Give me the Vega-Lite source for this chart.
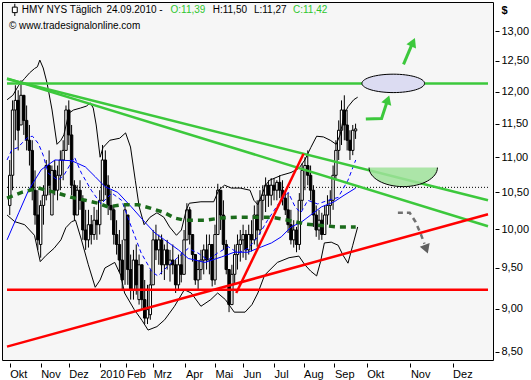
{
  "$schema": "https://vega.github.io/schema/vega-lite/v6.json",
  "width": 491,
  "height": 358,
  "autosize": {"type": "none"},
  "padding": {"left": 2, "top": 2, "right": 38, "bottom": 20},
  "background": "#ffffff",
  "config": {
    "font": "Liberation Sans",
    "view": {"fill": "#f6f6f6", "stroke": "#000000", "strokeWidth": 1}
  },
  "datasets": {
    "candles": [
      {"t":0,"o":10.32,"h":10.96,"l":10.19,"c":10.74},
      {"t":2,"o":10.74,"h":11.86,"l":10.53,"c":11.71},
      {"t":4,"o":11.71,"h":12.10,"l":11.25,"c":11.86},
      {"t":6,"o":11.86,"h":12.02,"l":11.10,"c":11.40},
      {"t":8,"o":11.48,"h":12.18,"l":11.48,"c":11.94},
      {"t":10,"o":11.94,"h":11.94,"l":11.33,"c":11.55},
      {"t":12,"o":11.55,"h":11.78,"l":11.10,"c":11.25},
      {"t":14,"o":11.25,"h":11.48,"l":10.88,"c":11.10},
      {"t":16,"o":11.10,"h":11.25,"l":10.39,"c":10.53},
      {"t":18,"o":10.53,"h":10.81,"l":10.06,"c":10.19},
      {"t":20,"o":10.19,"h":10.53,"l":9.73,"c":9.86},
      {"t":22,"o":9.80,"h":10.39,"l":9.63,"c":10.32},
      {"t":24,"o":10.32,"h":10.60,"l":10.06,"c":10.46},
      {"t":26,"o":10.46,"h":10.96,"l":10.39,"c":10.88},
      {"t":28,"o":10.88,"h":11.10,"l":10.46,"c":10.60},
      {"t":30,"o":10.19,"h":10.88,"l":10.19,"c":10.81},
      {"t":32,"o":10.81,"h":10.96,"l":10.46,"c":10.53},
      {"t":34,"o":10.53,"h":10.88,"l":10.39,"c":10.74},
      {"t":36,"o":10.74,"h":11.10,"l":10.53,"c":10.96},
      {"t":38,"o":10.96,"h":11.25,"l":10.67,"c":11.10},
      {"t":40,"o":11.10,"h":11.78,"l":11.10,"c":11.71},
      {"t":42,"o":11.71,"h":11.86,"l":11.18,"c":11.33},
      {"t":44,"o":11.33,"h":11.48,"l":10.46,"c":10.60},
      {"t":46,"o":10.60,"h":10.67,"l":10.12,"c":10.19},
      {"t":48,"o":10.19,"h":10.60,"l":10.19,"c":10.53},
      {"t":50,"o":10.53,"h":10.67,"l":10.26,"c":10.39},
      {"t":52,"o":10.39,"h":10.46,"l":9.86,"c":9.99},
      {"t":54,"o":9.99,"h":10.26,"l":9.73,"c":9.86},
      {"t":56,"o":9.86,"h":10.26,"l":9.76,"c":10.06},
      {"t":58,"o":10.06,"h":10.19,"l":9.80,"c":9.93},
      {"t":60,"o":9.93,"h":10.30,"l":9.86,"c":10.12},
      {"t":62,"o":10.12,"h":10.26,"l":9.86,"c":10.06},
      {"t":64,"o":10.06,"h":10.53,"l":9.93,"c":10.39},
      {"t":66,"o":10.39,"h":11.18,"l":10.39,"c":10.96},
      {"t":68,"o":10.96,"h":11.10,"l":10.46,"c":10.60},
      {"t":70,"o":10.60,"h":10.74,"l":10.19,"c":10.32},
      {"t":72,"o":10.32,"h":10.53,"l":10.12,"c":10.26},
      {"t":74,"o":10.26,"h":10.32,"l":9.80,"c":9.93},
      {"t":76,"o":9.93,"h":10.12,"l":9.67,"c":9.80},
      {"t":78,"o":9.80,"h":9.99,"l":9.45,"c":9.60},
      {"t":80,"o":9.60,"h":9.86,"l":9.23,"c":9.35},
      {"t":82,"o":9.86,"h":10.32,"l":9.29,"c":10.26},
      {"t":84,"o":10.19,"h":10.19,"l":9.29,"c":9.48},
      {"t":86,"o":9.48,"h":9.67,"l":9.11,"c":9.23},
      {"t":88,"o":9.23,"h":9.73,"l":9.11,"c":9.60},
      {"t":90,"o":9.60,"h":9.80,"l":9.17,"c":9.29},
      {"t":92,"o":9.11,"h":9.67,"l":9.05,"c":9.54},
      {"t":94,"o":9.54,"h":9.54,"l":8.99,"c":9.11},
      {"t":96,"o":9.11,"h":9.35,"l":8.82,"c":8.89},
      {"t":98,"o":8.89,"h":9.29,"l":8.82,"c":8.99},
      {"t":100,"o":8.93,"h":9.48,"l":8.87,"c":9.29},
      {"t":102,"o":9.29,"h":9.99,"l":9.29,"c":9.86},
      {"t":104,"o":9.86,"h":10.06,"l":9.60,"c":9.73},
      {"t":106,"o":9.73,"h":9.93,"l":9.54,"c":9.86},
      {"t":108,"o":9.86,"h":9.93,"l":9.42,"c":9.54},
      {"t":110,"o":9.54,"h":9.80,"l":9.35,"c":9.73},
      {"t":112,"o":9.73,"h":9.86,"l":9.48,"c":9.54},
      {"t":114,"o":9.54,"h":9.73,"l":9.33,"c":9.60},
      {"t":116,"o":9.60,"h":9.80,"l":9.42,"c":9.54},
      {"t":118,"o":9.54,"h":9.60,"l":9.19,"c":9.29},
      {"t":120,"o":9.29,"h":9.67,"l":9.23,"c":9.54},
      {"t":122,"o":9.54,"h":9.69,"l":9.32,"c":9.42},
      {"t":124,"o":9.42,"h":9.99,"l":9.42,"c":9.86},
      {"t":126,"o":9.86,"h":10.35,"l":9.86,"c":10.26},
      {"t":128,"o":10.26,"h":10.30,"l":9.80,"c":9.93},
      {"t":130,"o":9.93,"h":9.93,"l":9.58,"c":9.67},
      {"t":132,"o":9.67,"h":9.67,"l":9.29,"c":9.35},
      {"t":134,"o":9.35,"h":9.60,"l":9.23,"c":9.48},
      {"t":136,"o":9.48,"h":9.73,"l":9.35,"c":9.60},
      {"t":138,"o":9.60,"h":9.80,"l":9.42,"c":9.73},
      {"t":140,"o":9.73,"h":9.93,"l":9.48,"c":9.60},
      {"t":142,"o":9.60,"h":9.93,"l":9.42,"c":9.80},
      {"t":144,"o":9.80,"h":9.80,"l":9.27,"c":9.35},
      {"t":146,"o":9.35,"h":10.06,"l":9.29,"c":9.93},
      {"t":148,"o":9.93,"h":10.62,"l":9.93,"c":10.53},
      {"t":150,"o":10.53,"h":10.53,"l":9.99,"c":10.19},
      {"t":152,"o":10.19,"h":10.39,"l":9.73,"c":9.80},
      {"t":154,"o":9.80,"h":9.86,"l":9.42,"c":9.48},
      {"t":156,"o":9.48,"h":9.48,"l":8.96,"c":9.05},
      {"t":158,"o":9.05,"h":9.54,"l":9.05,"c":9.42},
      {"t":160,"o":9.42,"h":9.80,"l":9.29,"c":9.67},
      {"t":162,"o":9.67,"h":9.93,"l":9.48,"c":9.80},
      {"t":164,"o":9.80,"h":9.99,"l":9.58,"c":9.86},
      {"t":166,"o":9.86,"h":10.06,"l":9.63,"c":9.93},
      {"t":168,"o":9.93,"h":9.99,"l":9.60,"c":9.73},
      {"t":170,"o":9.73,"h":10.06,"l":9.67,"c":9.93},
      {"t":172,"o":9.93,"h":10.12,"l":9.71,"c":9.86},
      {"t":174,"o":9.86,"h":10.32,"l":9.80,"c":10.19},
      {"t":176,"o":10.19,"h":10.39,"l":9.77,"c":9.99},
      {"t":178,"o":9.99,"h":10.53,"l":9.93,"c":10.39},
      {"t":180,"o":10.39,"h":10.60,"l":10.12,"c":10.46},
      {"t":182,"o":10.46,"h":10.71,"l":10.23,"c":10.60},
      {"t":184,"o":10.60,"h":10.67,"l":10.30,"c":10.46},
      {"t":186,"o":10.46,"h":10.70,"l":10.32,"c":10.60},
      {"t":188,"o":10.60,"h":10.70,"l":10.39,"c":10.53},
      {"t":190,"o":10.53,"h":10.67,"l":10.39,"c":10.64},
      {"t":192,"o":10.64,"h":10.74,"l":10.42,"c":10.53},
      {"t":194,"o":10.53,"h":10.67,"l":10.32,"c":10.42},
      {"t":196,"o":10.42,"h":10.53,"l":10.19,"c":10.26},
      {"t":198,"o":10.26,"h":10.49,"l":9.95,"c":10.06},
      {"t":200,"o":10.06,"h":10.26,"l":9.80,"c":9.86},
      {"t":202,"o":9.86,"h":10.12,"l":9.76,"c":9.99},
      {"t":204,"o":9.99,"h":10.03,"l":9.70,"c":9.80},
      {"t":206,"o":9.80,"h":10.49,"l":9.73,"c":10.39},
      {"t":208,"o":10.39,"h":10.91,"l":10.26,"c":10.81},
      {"t":210,"o":10.81,"h":11.00,"l":10.53,"c":10.88},
      {"t":212,"o":10.88,"h":11.10,"l":10.60,"c":10.74},
      {"t":214,"o":10.74,"h":10.88,"l":10.39,"c":10.53},
      {"t":216,"o":10.53,"h":10.60,"l":10.03,"c":10.19},
      {"t":218,"o":10.19,"h":10.32,"l":9.90,"c":9.99},
      {"t":220,"o":9.99,"h":10.26,"l":9.86,"c":10.12},
      {"t":222,"o":10.12,"h":10.22,"l":9.86,"c":9.93},
      {"t":224,"o":9.93,"h":10.32,"l":9.93,"c":10.19},
      {"t":226,"o":10.19,"h":10.46,"l":10.06,"c":10.32},
      {"t":228,"o":10.32,"h":10.53,"l":10.06,"c":10.39},
      {"t":230,"o":10.39,"h":10.88,"l":10.26,"c":10.74},
      {"t":232,"o":10.74,"h":11.25,"l":10.67,"c":11.10},
      {"t":234,"o":11.10,"h":11.55,"l":10.96,"c":11.40},
      {"t":236,"o":11.40,"h":11.86,"l":11.18,"c":11.71},
      {"t":238,"o":11.71,"h":11.94,"l":11.25,"c":11.48},
      {"t":240,"o":11.48,"h":11.71,"l":11.10,"c":11.25},
      {"t":242,"o":11.25,"h":11.40,"l":10.96,"c":11.10},
      {"t":244,"o":11.10,"h":11.48,"l":11.03,"c":11.40},
      {"t":246,"o":11.39,"h":11.50,"l":11.27,"c":11.42}
    ],
    "ind": [
      {"s":"ub","t":-1.9,"v":11.87},{"s":"ub","t":2.2,"v":11.94},{"s":"ub","t":6.4,"v":12.10},{"s":"ub","t":10.6,"v":12.21},{"s":"ub","t":14.1,"v":12.30},{"s":"ub","t":17.6,"v":12.37},{"s":"ub","t":19.7,"v":12.40},{"s":"ub","t":21.4,"v":12.51},{"s":"ub","t":23.8,"v":12.38},{"s":"ub","t":26.6,"v":12.13},{"s":"ub","t":30.1,"v":11.71},{"s":"ub","t":33.6,"v":11.19},{"s":"ub","t":36.4,"v":11.25},{"s":"ub","t":38.5,"v":11.33},{"s":"ub","t":42.0,"v":11.66},{"s":"ub","t":45.4,"v":11.71},{"s":"ub","t":50.3,"v":11.74},{"s":"ub","t":54.5,"v":11.77},{"s":"ub","t":57.3,"v":11.82},{"s":"ub","t":59.4,"v":11.74},{"s":"ub","t":61.5,"v":11.48},{"s":"ub","t":64.3,"v":11.00},{"s":"ub","t":66.3,"v":11.14},{"s":"ub","t":71.2,"v":11.25},{"s":"ub","t":78.2,"v":11.28},{"s":"ub","t":82.4,"v":11.36},{"s":"ub","t":85.9,"v":11.15},{"s":"ub","t":89.3,"v":10.67},{"s":"ub","t":92.1,"v":10.30},{"s":"ub","t":95.6,"v":10.06},{"s":"ub","t":99.8,"v":10.16},{"s":"ub","t":104.7,"v":10.22},{"s":"ub","t":109.6,"v":10.16},{"s":"ub","t":113.7,"v":10.03},{"s":"ub","t":118.6,"v":9.92},{"s":"ub","t":122.1,"v":9.99},{"s":"ub","t":125.6,"v":10.26},{"s":"ub","t":127.7,"v":10.35},{"s":"ub","t":136.0,"v":10.37},{"s":"ub","t":145.1,"v":10.37},{"s":"ub","t":148.6,"v":10.53},{"s":"ub","t":152.8,"v":10.60},{"s":"ub","t":157.6,"v":10.56},{"s":"ub","t":163.9,"v":10.56},{"s":"ub","t":170.9,"v":10.53},{"s":"ub","t":173.7,"v":10.39},{"s":"ub","t":176.5,"v":10.33},{"s":"ub","t":179.2,"v":10.46},{"s":"ub","t":182.0,"v":10.60},{"s":"ub","t":184.8,"v":10.67},{"s":"ub","t":193.2,"v":10.74},{"s":"ub","t":200.1,"v":10.78},{"s":"ub","t":205.7,"v":10.84},{"s":"ub","t":209.9,"v":10.96},{"s":"ub","t":214.1,"v":11.14},{"s":"ub","t":218.3,"v":11.31},{"s":"ub","t":223.1,"v":11.30},{"s":"ub","t":228.0,"v":11.25},{"s":"ub","t":232.2,"v":11.19},{"s":"ub","t":235.0,"v":11.33},{"s":"ub","t":237.8,"v":11.63},{"s":"ub","t":240.6,"v":11.76},{"s":"ub","t":244.7,"v":11.87},{"s":"ub","t":247.5,"v":11.91},
      {"s":"lb","t":-1.9,"v":10.19},{"s":"lb","t":3.6,"v":10.10},{"s":"lb","t":10.6,"v":10.06},{"s":"lb","t":17.6,"v":9.92},{"s":"lb","t":21.7,"v":9.58},{"s":"lb","t":25.9,"v":9.66},{"s":"lb","t":31.5,"v":9.75},{"s":"lb","t":36.4,"v":9.86},{"s":"lb","t":39.9,"v":10.02},{"s":"lb","t":44.0,"v":10.10},{"s":"lb","t":46.8,"v":10.12},{"s":"lb","t":51.0,"v":9.86},{"s":"lb","t":55.9,"v":9.54},{"s":"lb","t":60.8,"v":9.26},{"s":"lb","t":64.3,"v":9.35},{"s":"lb","t":67.7,"v":9.50},{"s":"lb","t":74.7,"v":9.57},{"s":"lb","t":78.9,"v":9.41},{"s":"lb","t":81.7,"v":9.19},{"s":"lb","t":88.6,"v":8.99},{"s":"lb","t":94.2,"v":8.86},{"s":"lb","t":98.4,"v":8.75},{"s":"lb","t":104.7,"v":8.79},{"s":"lb","t":110.2,"v":8.87},{"s":"lb","t":117.2,"v":9.03},{"s":"lb","t":124.2,"v":9.23},{"s":"lb","t":129.1,"v":9.19},{"s":"lb","t":136.0,"v":9.03},{"s":"lb","t":143.0,"v":9.11},{"s":"lb","t":147.9,"v":9.19},{"s":"lb","t":153.4,"v":9.11},{"s":"lb","t":159.7,"v":8.96},{"s":"lb","t":167.4,"v":8.96},{"s":"lb","t":172.3,"v":9.05},{"s":"lb","t":176.5,"v":9.19},{"s":"lb","t":181.3,"v":9.41},{"s":"lb","t":190.4,"v":9.57},{"s":"lb","t":198.7,"v":9.63},{"s":"lb","t":205.7,"v":9.65},{"s":"lb","t":209.9,"v":9.54},{"s":"lb","t":214.1,"v":9.46},{"s":"lb","t":218.3,"v":9.40},{"s":"lb","t":221.1,"v":9.58},{"s":"lb","t":223.8,"v":9.82},{"s":"lb","t":228.7,"v":9.83},{"s":"lb","t":233.6,"v":9.79},{"s":"lb","t":237.1,"v":9.66},{"s":"lb","t":240.6,"v":9.56},{"s":"lb","t":244.0,"v":9.79},{"s":"lb","t":247.5,"v":10.03},
      {"s":"ma1","t":-1.9,"v":9.86},{"s":"ma1","t":6.4,"v":10.22},{"s":"ma1","t":13.4,"v":10.53},{"s":"ma1","t":22.4,"v":10.82},{"s":"ma1","t":32.2,"v":10.96},{"s":"ma1","t":44.0,"v":10.95},{"s":"ma1","t":53.8,"v":10.86},{"s":"ma1","t":60.8,"v":10.72},{"s":"ma1","t":67.7,"v":10.58},{"s":"ma1","t":76.8,"v":10.50},{"s":"ma1","t":86.5,"v":10.30},{"s":"ma1","t":96.3,"v":10.09},{"s":"ma1","t":103.3,"v":9.95},{"s":"ma1","t":110.2,"v":9.86},{"s":"ma1","t":120.0,"v":9.73},{"s":"ma1","t":127.0,"v":9.62},{"s":"ma1","t":138.8,"v":9.57},{"s":"ma1","t":150.7,"v":9.64},{"s":"ma1","t":159.7,"v":9.70},{"s":"ma1","t":169.5,"v":9.70},{"s":"ma1","t":179.2,"v":9.77},{"s":"ma1","t":186.2,"v":9.82},{"s":"ma1","t":193.2,"v":9.90},{"s":"ma1","t":200.1,"v":10.03},{"s":"ma1","t":207.1,"v":10.09},{"s":"ma1","t":214.1,"v":10.19},{"s":"ma1","t":221.7,"v":10.30},{"s":"ma1","t":230.8,"v":10.37},{"s":"ma1","t":237.8,"v":10.46},{"s":"ma1","t":246.1,"v":10.56},
      {"s":"ma2","t":-1.9,"v":10.96},{"s":"ma2","t":1.5,"v":11.11},{"s":"ma2","t":5.7,"v":11.14},{"s":"ma2","t":10.6,"v":11.25},{"s":"ma2","t":13.4,"v":11.30},{"s":"ma2","t":16.2,"v":11.31},{"s":"ma2","t":20.4,"v":11.20},{"s":"ma2","t":23.8,"v":11.03},{"s":"ma2","t":27.3,"v":10.77},{"s":"ma2","t":34.3,"v":10.67},{"s":"ma2","t":38.5,"v":10.74},{"s":"ma2","t":42.0,"v":10.86},{"s":"ma2","t":46.1,"v":11.00},{"s":"ma2","t":51.0,"v":10.77},{"s":"ma2","t":58.0,"v":10.53},{"s":"ma2","t":64.9,"v":10.34},{"s":"ma2","t":69.1,"v":10.42},{"s":"ma2","t":72.6,"v":10.49},{"s":"ma2","t":79.6,"v":10.39},{"s":"ma2","t":86.5,"v":10.03},{"s":"ma2","t":93.5,"v":9.69},{"s":"ma2","t":101.2,"v":9.45},{"s":"ma2","t":105.4,"v":9.40},{"s":"ma2","t":112.3,"v":9.52},{"s":"ma2","t":120.0,"v":9.64},{"s":"ma2","t":127.0,"v":9.75},{"s":"ma2","t":133.9,"v":9.69},{"s":"ma2","t":140.9,"v":9.60},{"s":"ma2","t":147.9,"v":9.69},{"s":"ma2","t":155.5,"v":9.77},{"s":"ma2","t":162.5,"v":9.69},{"s":"ma2","t":169.5,"v":9.75},{"s":"ma2","t":176.5,"v":9.90},{"s":"ma2","t":183.4,"v":10.12},{"s":"ma2","t":191.1,"v":10.34},{"s":"ma2","t":198.1,"v":10.50},{"s":"ma2","t":203.0,"v":10.30},{"s":"ma2","t":207.1,"v":10.22},{"s":"ma2","t":212.0,"v":10.39},{"s":"ma2","t":219.0,"v":10.34},{"s":"ma2","t":226.6,"v":10.39},{"s":"ma2","t":233.6,"v":10.43},{"s":"ma2","t":240.6,"v":10.67},{"s":"ma2","t":246.1,"v":10.96},
      {"s":"ma3","t":-1.9,"v":10.42},{"s":"ma3","t":8.5,"v":10.50},{"s":"ma3","t":20.4,"v":10.56},{"s":"ma3","t":32.2,"v":10.50},{"s":"ma3","t":44.0,"v":10.43},{"s":"ma3","t":53.8,"v":10.39},{"s":"ma3","t":62.9,"v":10.35},{"s":"ma3","t":69.8,"v":10.30},{"s":"ma3","t":79.6,"v":10.33},{"s":"ma3","t":91.4,"v":10.33},{"s":"ma3","t":100.5,"v":10.28},{"s":"ma3","t":110.2,"v":10.22},{"s":"ma3","t":117.2,"v":10.15},{"s":"ma3","t":124.2,"v":10.12},{"s":"ma3","t":138.8,"v":10.12},{"s":"ma3","t":150.7,"v":10.15},{"s":"ma3","t":162.5,"v":10.16},{"s":"ma3","t":174.3,"v":10.16},{"s":"ma3","t":186.2,"v":10.16},{"s":"ma3","t":198.1,"v":10.12},{"s":"ma3","t":209.9,"v":10.07},{"s":"ma3","t":221.7,"v":10.05},{"s":"ma3","t":233.6,"v":10.03},{"s":"ma3","t":246.1,"v":10.03}
    ],
    "trend": [
      {"s":"gh","t":-1.95,"v":12.13},{"s":"gh","t":340.2,"v":12.13},
      {"s":"ga","t":-1.95,"v":12.20},{"s":"ga","t":340.2,"v":10.39},
      {"s":"gb","t":-1.95,"v":12.21},{"s":"gb","t":340.2,"v":10.04},
      {"s":"rh","t":-1.95,"v":9.23},{"s":"rh","t":340.2,"v":9.23},
      {"s":"ra","t":-1.95,"v":8.56},{"s":"ra","t":340.2,"v":10.20},
      {"s":"rs","t":161.1,"v":9.19},{"s":"rs","t":209.0,"v":11.05},
      {"s":"dot","t":-1.95,"v":10.57},{"s":"dot","t":340.2,"v":10.57}
    ],
    "arrows": [
      {"s":"g1","t":280.1,"v":12.44},{"s":"g1","t":285.9,"v":12.76},
      {"s":"g2","t":253.3,"v":11.57},{"s":"g2","t":264.5,"v":11.58},{"s":"g2","t":268.1,"v":11.82},
      {"s":"gr","t":276.1,"v":10.22},{"s":"gr","t":284.5,"v":10.22},{"s":"gr","t":288.6,"v":10.10},{"s":"gr","t":292.1,"v":9.95},{"s":"gr","t":295.0,"v":9.81}
    ],
    "heads": [
      {"s":"g1","t":286.9,"v":12.81},
      {"s":"g2","t":268.9,"v":11.87},
      {"s":"gr","t":296.3,"v":9.74}
    ],
    "shapes": [
      {"s":"ellipse","t":272.8,"v":12.13},
      {"s":"bowl","t":279.9,"v":10.85},
      {"s":"icon","t":3.6,"v":13.37}
    ],
    "header": [
      {"t":8.5,"v":13.37,"label":"HMY NYS Täglich","kind":"k"},
      {"t":68.8,"v":13.37,"label":"24.09.2010 -","kind":"k"},
      {"t":114.4,"v":13.37,"label":"O:11,39","kind":"g"},
      {"t":144.4,"v":13.37,"label":"H:11,50","kind":"k"},
      {"t":173.7,"v":13.37,"label":"L:11,27","kind":"k"},
      {"t":201.5,"v":13.37,"label":"C:11,42","kind":"g"},
      {"t":-0.6,"v":13.09,"label":"© www.tradesignalonline.com","kind":"k"}
    ]
  },
  "encoding": {
    "x": {
      "field": "t", "type": "quantitative",
      "scale": {"domain": [-1.95, 340.2], "nice": false, "zero": false},
      "axis": {
        "values": [0,22,42,64,83,102,125,146,166,188,209,231,254,285,315],
        "labelExpr": "['Okt','Nov','Dez','2010','Feb','Mrz','Apr','Mai','Jun','Jul','Aug','Sep','Okt','Nov','Dez'][indexof([0,22,42,64,83,102,125,146,166,188,209,231,254,285,315], datum.value)]",
        "title": null, "grid": false, "domain": false,
        "offset": 3, "tickSize": 4, "tickColor": "#000000",
        "labelAlign": "left", "labelBaseline": "top", "labelPadding": 1,
        "labelFontSize": 11, "labelColor": "#000000", "labelFlush": false, "labelOverlap": false
      }
    },
    "y": {
      "field": "v", "type": "quantitative",
      "scale": {"type": "log", "domain": [8.41, 13.51], "nice": false, "zero": false},
      "axis": {
        "orient": "right",
        "values": [8.5,9,9.5,10,10.5,11,11.5,12,12.5,13],
        "labelExpr": "replace(format(datum.value, '.2f'), '.', ',')",
        "grid": false, "domain": false,
        "offset": 2, "tickSize": 4, "tickColor": "#000000",
        "labelPadding": 2, "labelFontSize": 11, "labelColor": "#000000", "labelFlush": false, "labelOverlap": false,
        "title": "$", "titleAngle": 0, "titleX": 6, "titleY": 8, "titleAlign": "left", "titleBaseline": "middle",
        "titleFontSize": 11, "titleFontWeight": "bold", "titleColor": "#000000"
      }
    }
  },
  "layer": [
    {
      "data": {"name": "trend"},
      "transform": [{"filter": "datum.s === 'dot'"}],
      "mark": {"type": "line", "color": "#000000", "strokeWidth": 1, "strokeDash": [1, 2]},
      "encoding": {}
    },
    {
      "data": {"name": "candles"},
      "mark": {"type": "rule", "color": "#000000", "strokeWidth": 1},
      "encoding": {
        "y": {"field": "l", "type": "quantitative", "scale": {"type": "log", "domain": [8.41, 13.51], "nice": false, "zero": false}},
        "y2": {"field": "h"}
      }
    },
    {
      "data": {"name": "candles"},
      "mark": {"type": "bar", "size": 2.4, "stroke": "#000000", "strokeWidth": 1},
      "encoding": {
        "y": {"field": "o", "type": "quantitative", "scale": {"type": "log", "domain": [8.41, 13.51], "nice": false, "zero": false}},
        "y2": {"field": "c"},
        "fill": {"condition": {"test": "datum.c > datum.o", "value": "#ffffff"}, "value": "#000000"}
      }
    },
    {
      "data": {"name": "ind"},
      "transform": [{"filter": "datum.s === 'ub' || datum.s === 'lb'"}],
      "mark": {"type": "line", "color": "#000000", "strokeWidth": 1},
      "encoding": {"detail": {"field": "s"}}
    },
    {
      "data": {"name": "ind"},
      "transform": [{"filter": "datum.s === 'ma1'"}],
      "mark": {"type": "line", "color": "#0000ff", "strokeWidth": 1},
      "encoding": {}
    },
    {
      "data": {"name": "ind"},
      "transform": [{"filter": "datum.s === 'ma2'"}],
      "mark": {"type": "line", "color": "#0000ff", "strokeWidth": 1, "strokeDash": [4, 3]},
      "encoding": {}
    },
    {
      "data": {"name": "ind"},
      "transform": [{"filter": "datum.s === 'ma3'"}],
      "mark": {"type": "line", "color": "#1b6b1b", "strokeWidth": 3.5, "strokeDash": [6, 5]},
      "encoding": {}
    },
    {
      "data": {"name": "trend"},
      "transform": [{"filter": "datum.s === 'gh' || datum.s === 'ga' || datum.s === 'gb'"}],
      "mark": {"type": "line", "color": "#3cc83c", "strokeWidth": 2.5},
      "encoding": {"detail": {"field": "s"}}
    },
    {
      "data": {"name": "trend"},
      "transform": [{"filter": "datum.s === 'rh' || datum.s === 'ra' || datum.s === 'rs'"}],
      "mark": {"type": "line", "color": "#ff0000", "strokeWidth": 2.5},
      "encoding": {"detail": {"field": "s"}}
    },
    {
      "data": {"name": "shapes"},
      "transform": [{"filter": "datum.s === 'ellipse'"}],
      "mark": {"type": "point", "filled": true, "fill": "#dcdcf2", "fillOpacity": 1, "stroke": "#000000", "strokeWidth": 1, "size": 3919,
        "shape": "M-1,0 C-1,-0.162 -0.552,-0.294 0,-0.294 C0.552,-0.294 1,-0.162 1,0 C1,0.162 0.552,0.294 0,0.294 C-0.552,0.294 -1,0.162 -1,0 Z"},
      "encoding": {}
    },
    {
      "data": {"name": "shapes"},
      "transform": [{"filter": "datum.s === 'bowl'"}],
      "mark": {"type": "point", "filled": true, "fill": "#9fe29a", "fillOpacity": 0.85, "strokeWidth": 0, "size": 4679,
        "shape": "M-1,0 C-1,0.307 -0.552,0.556 0,0.556 C0.552,0.556 1,0.307 1,0 Z"},
      "encoding": {}
    },
    {
      "data": {"name": "shapes"},
      "transform": [{"filter": "datum.s === 'bowl'"}],
      "mark": {"type": "point", "filled": false, "stroke": "#000000", "strokeWidth": 1, "opacity": 1, "size": 4679,
        "shape": "M-1,0 C-1,0.307 -0.552,0.556 0,0.556 C0.552,0.556 1,0.307 1,0"},
      "encoding": {}
    },
    {
      "data": {"name": "shapes"},
      "transform": [{"filter": "datum.s === 'icon'"}],
      "mark": {"type": "point", "filled": true, "fill": "#ffffff", "stroke": "#000000", "strokeWidth": 1, "opacity": 1, "size": 150,
        "shape": "M0,-1 L0,-0.45 M-0.4,-0.45 L0.4,-0.45 L0.4,0.45 L-0.4,0.45 Z M0,0.45 L0,1"},
      "encoding": {}
    },
    {
      "data": {"name": "arrows"},
      "transform": [{"filter": "datum.s === 'g1' || datum.s === 'g2'"}],
      "mark": {"type": "line", "color": "#3cc83c", "strokeWidth": 3},
      "encoding": {"detail": {"field": "s"}}
    },
    {
      "data": {"name": "arrows"},
      "transform": [{"filter": "datum.s === 'gr'"}],
      "mark": {"type": "line", "color": "#707070", "strokeWidth": 2.5, "strokeDash": [5, 4]},
      "encoding": {}
    },
    {
      "data": {"name": "heads"},
      "transform": [{"filter": "datum.s === 'g1'"}],
      "mark": {"type": "point", "shape": "triangle-up", "filled": true, "color": "#3cc83c", "opacity": 1, "size": 110, "angle": 24},
      "encoding": {}
    },
    {
      "data": {"name": "heads"},
      "transform": [{"filter": "datum.s === 'g2'"}],
      "mark": {"type": "point", "shape": "triangle-up", "filled": true, "color": "#3cc83c", "opacity": 1, "size": 110, "angle": 19},
      "encoding": {}
    },
    {
      "data": {"name": "heads"},
      "transform": [{"filter": "datum.s === 'gr'"}],
      "mark": {"type": "point", "shape": "triangle-down", "filled": true, "color": "#606060", "opacity": 1, "size": 110, "angle": -20},
      "encoding": {}
    },
    {
      "data": {"name": "header"},
      "mark": {"type": "text", "align": "left", "baseline": "middle", "fontSize": 10, "font": "Liberation Sans"},
      "encoding": {
        "text": {"field": "label"},
        "color": {"field": "kind", "type": "nominal", "scale": {"domain": ["k", "g"], "range": ["#000000", "#2ec62e"]}, "legend": null}
      }
    }
  ]
}
